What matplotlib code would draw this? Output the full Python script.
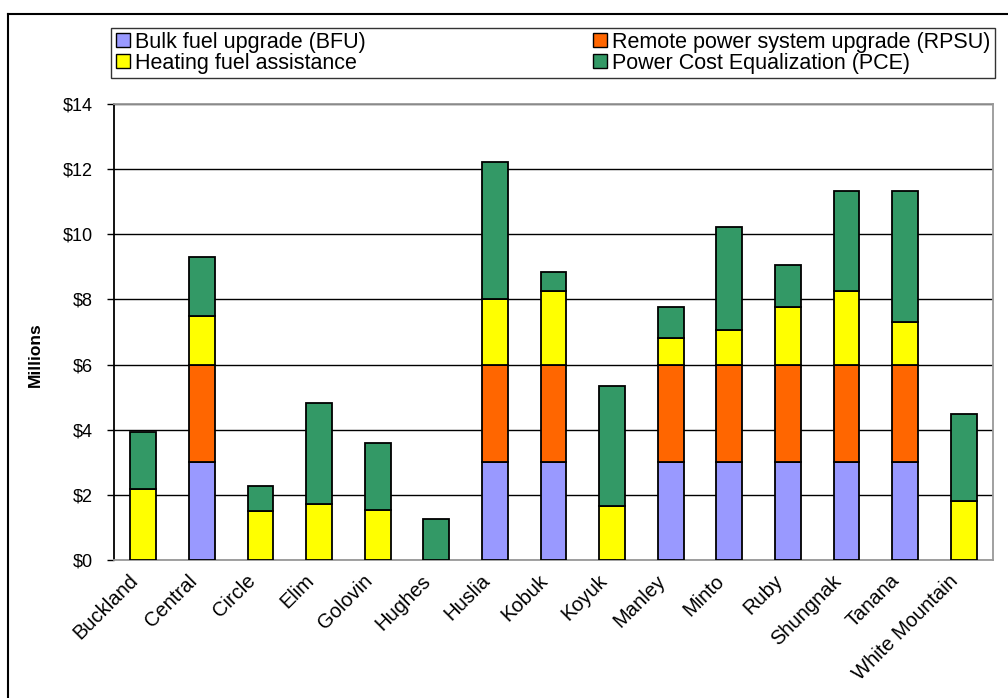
import numpy as np
import matplotlib
matplotlib.use("Agg")
import matplotlib.pyplot as plt
from matplotlib.lines import Line2D
from matplotlib.ticker import FuncFormatter
from matplotlib.transforms import ScaledTranslation

plt.rcParams['font.family'] = ['Liberation Sans', 'DejaVu Sans']

# ---- data (millions of $) ----
communities = ['Buckland', 'Central', 'Circle', 'Elim', 'Golovin', 'Hughes',
               'Huslia', 'Kobuk', 'Koyuk', 'Manley', 'Minto', 'Ruby',
               'Shungnak', 'Tanana', 'White Mountain']
bfu = [0, 3, 0, 0, 0, 0, 3, 3, 0, 3, 3, 3, 3, 3, 0]
rpsu = [0, 3, 0, 0, 0, 0, 3, 3, 0, 3, 3, 3, 3, 3, 0]
heating = [2.17, 1.50, 1.50, 1.72, 1.55, 0, 2.00, 2.27, 1.65, 0.83, 1.06, 1.76, 2.27, 1.30, 1.81]
pce = [1.76, 1.79, 0.78, 3.10, 2.05, 1.25, 4.23, 0.58, 3.69, 0.95, 3.15, 1.31, 3.05, 4.02, 2.66]

series = [
    ("Bulk fuel upgrade (BFU)", bfu, "#9999FF"),
    ("Heating fuel assistance", heating, "#FFFF00"),
    ("Remote power system upgrade (RPSU)", rpsu, "#FF6600"),
    ("Power Cost Equalization (PCE)", pce, "#339966"),
]
stack_order = [0, 2, 1, 3]  # BFU, RPSU, heating, PCE from bottom

W, H = 1008, 698
fig = plt.figure(figsize=(W / 100, H / 100), dpi=100)
ax = fig.add_axes([114 / W, 1 - 560 / H, (993 - 114) / W, (560 - 104) / H])

x = np.arange(len(communities))
bottom = np.zeros(len(communities))
for i in stack_order:
    name, vals, col = series[i]
    vals = np.array(vals, dtype=float)
    ax.bar(x, vals, 0.44, bottom=bottom, color=col,
           edgecolor='black', linewidth=1.3, zorder=3)
    bottom += vals

ax.set_xlim(-0.5, len(communities) - 0.5)
ax.set_ylim(0, 14)
ax.set_yticks(range(0, 15, 2))
ax.yaxis.set_major_formatter(FuncFormatter(lambda v, p: f"${v:.0f}"))
ax.tick_params(axis='y', direction='out', length=5, width=1, labelsize=13, pad=10)
ax.grid(axis='y', color='black', linewidth=1, zorder=0)

ax.set_xticks(x)
ax.set_xticklabels(communities, rotation=45, ha='right', rotation_mode='anchor', fontsize=14.5)
ax.tick_params(axis='x', length=0, pad=8)
shift = ScaledTranslation(-0.15, 0, fig.dpi_scale_trans)
for lab in ax.get_xticklabels():
    lab.set_transform(lab.get_transform() + shift)

for s in ['top', 'right', 'bottom']:
    ax.spines[s].set_color('#999999')
    ax.spines[s].set_linewidth(1.3)
ax.spines['left'].set_color('black')
ax.spines['left'].set_linewidth(1.3)

ax.set_ylabel("Millions", fontsize=12.5, fontweight='bold')
ax.yaxis.set_label_coords(43 / W, 1 - 355 / H, transform=fig.transFigure)

# legend
handles = [Line2D([], [], marker='s', linestyle='none', markersize=10,
                  markerfacecolor=col, markeredgecolor='black', markeredgewidth=1)
           for _, _, col in series]
labels = [name for name, _, _ in series]
leg = fig.legend(handles, labels, ncol=2, mode='expand', loc='center',
                 bbox_to_anchor=(111 / W, 1 - 79 / H, (995 - 111) / W, 52 / H),
                 fontsize=15.5, frameon=True, fancybox=False, handletextpad=0.2,
                 borderpad=0.2, labelspacing=0.0, handlelength=0.7,
                 columnspacing=1.0, borderaxespad=0)
leg.get_frame().set_edgecolor('black')
leg.get_frame().set_linewidth(1)

# outer chart frame
fig.add_artist(Line2D([8 / W, 8 / W], [0, 1 - 14 / H], color='black', linewidth=1.5,
                      transform=fig.transFigure))
fig.add_artist(Line2D([8 / W, 1], [1 - 14 / H, 1 - 14 / H], color='black', linewidth=1.5,
                      transform=fig.transFigure))

fig.savefig("out.png", dpi=100)
